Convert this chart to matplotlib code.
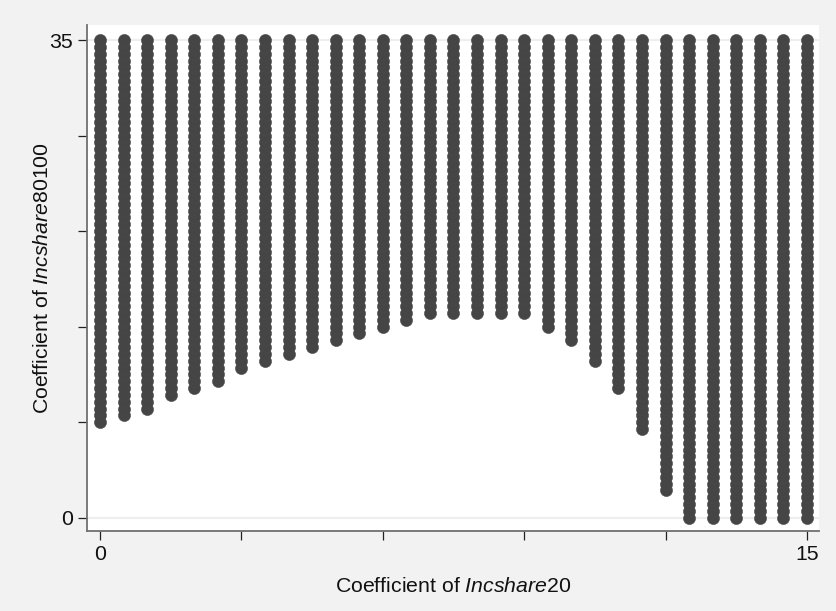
import numpy as np
import matplotlib
matplotlib.use("Agg")
import matplotlib.pyplot as plt

plt.rcParams['font.family'] = ['Liberation Sans', 'DejaVu Sans']
plt.rcParams['mathtext.fontset'] = 'custom'
plt.rcParams['mathtext.rm'] = 'Liberation Sans'
plt.rcParams['mathtext.it'] = 'Liberation Sans:italic'

# Data: columns of coefficient combinations (x) and lowest feasible y per column
x_values = [0, 0.5, 1, 1.5, 2, 2.5, 3, 3.5, 4, 4.5, 5, 5.5, 6, 6.5, 7, 7.5,
            8, 8.5, 9, 9.5, 10, 10.5, 11, 11.5, 12, 12.5, 13, 13.5, 14, 14.5, 15]
y_min = [7, 7.5, 8, 9, 9.5, 10, 11, 11.5, 12, 12.5, 13, 13.5, 14, 14.5, 15, 15,
         15, 15, 15, 14, 13, 11.5, 9.5, 6.5, 2, 0, 0, 0, 0, 0, 0]
y_max = 35
y_step = 0.5

x_ticks = [0, 3, 6, 9, 12, 15]
x_ticklabels = ['0', '', '', '', '', '15']
y_ticks = [0, 7, 14, 21, 28, 35]
y_ticklabels = ['0', '', '', '', '', '35']

FS = 15.3

fig = plt.figure(figsize=(8.36, 6.11), dpi=100)
fig.patch.set_facecolor('#f2f2f2')
ax = fig.add_axes([0.1037, 0.1314, 0.9797 - 0.1037, 0.959 - 0.1314])
ax.set_facecolor('white')

xs, ys = [], []
for xv, lo in zip(x_values, y_min):
    col = np.arange(lo, y_max + 1e-9, y_step)
    xs.extend([xv] * len(col))
    ys.extend(col)
ax.plot(xs, ys, 'o', color='#454545', ms=8.7, mec='#4a4a4a', mew=0.4, zorder=3, clip_on=False)

for gy in [0, 35]:
    ax.axhline(gy, color='#eeeeee', lw=1.5, zorder=1)

ax.set_xlim(-0.282, 15.255)
ax.set_ylim(-0.95, 36.1)

ax.set_xticks(x_ticks)
ax.set_xticklabels(x_ticklabels)
ax.set_yticks(y_ticks)
ax.set_yticklabels(y_ticklabels)
ax.tick_params(axis='both', direction='out', length=6.5, width=0.9, color='#222222',
               labelsize=FS, labelcolor='#111111', pad=3.5)

for s in ['top', 'right']:
    ax.spines[s].set_visible(False)
for s in ['left', 'bottom']:
    ax.spines[s].set_color('#707070')
    ax.spines[s].set_linewidth(1.3)

ax.set_xlabel(r'Coefficient of $\it{Incshare}$20', fontsize=FS, labelpad=10, color='#111111')
ax.set_ylabel(r'Coefficient of $\it{Incshare}$80100', fontsize=FS, color='#111111')
ax.yaxis.label.set_verticalalignment('center')
ax.yaxis.set_label_coords(-0.061, 0.5)

fig.savefig('out.png', dpi=100, facecolor=fig.get_facecolor())
